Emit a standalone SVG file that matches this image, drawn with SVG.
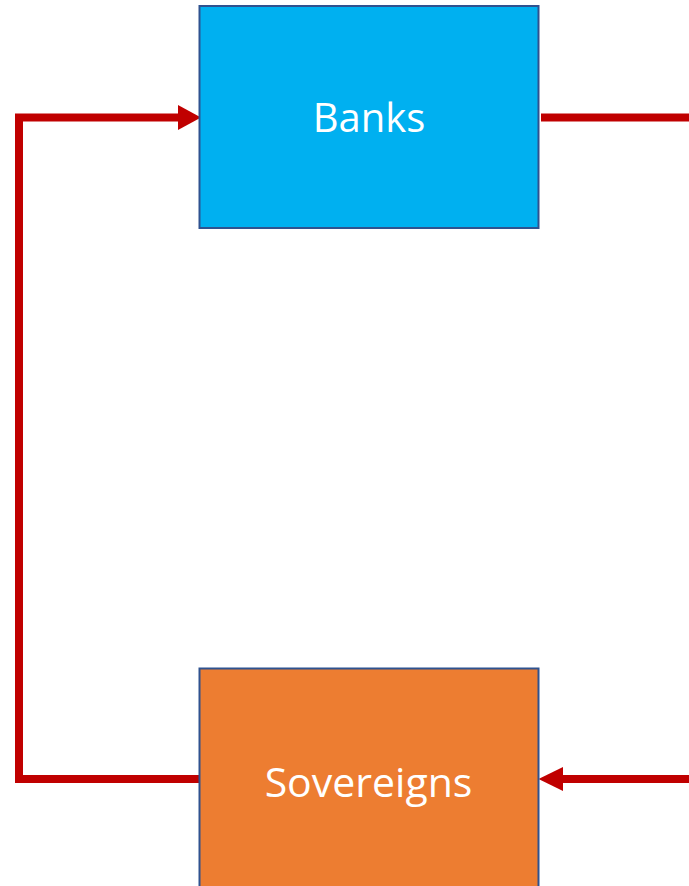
<svg xmlns="http://www.w3.org/2000/svg" width="689" height="886" viewBox="0 0 689 886">
  <style>
    .node-box { stroke: #2F528F; stroke-width: 2; }
    .label { font-family: "Open Sans", "Liberation Sans", sans-serif; font-size: 40px; fill: #FFFFFF; text-anchor: middle; }
    .link { fill: none; stroke: #C00000; stroke-width: 8; stroke-linejoin: miter; }
    .head { fill: #C00000; }
  </style>
  <rect width="689" height="886" fill="#FFFFFF"/>

  <g id="connectors">
    <!-- Sovereigns -> Banks, around the left side -->
    <polyline class="link" points="200,779 19,779 19,117.5 179,117.5"/>
    <polygon class="head" points="201,117.5 178,105 178,130"/>
    <!-- Banks -> off to the right -->
    <line class="link" x1="541" y1="117.5" x2="689" y2="117.5"/>
    <!-- incoming from the right -> Sovereigns -->
    <line class="link" x1="560" y1="779" x2="689" y2="779"/>
    <polygon class="head" points="538.5,779 563,767 563,791"/>
  </g>

  <g id="banks">
    <rect class="node-box" x="199.5" y="6" width="339" height="222" fill="#00B0F0"/>
    <text class="label" x="369" y="132">Banks</text>
  </g>

  <g id="sovereigns">
    <rect class="node-box" x="199.5" y="668.5" width="339" height="230" fill="#ED7D31"/>
    <text class="label" x="368.5" y="796.5" style="font-size:41px">Sovereigns</text>
  </g>
</svg>
